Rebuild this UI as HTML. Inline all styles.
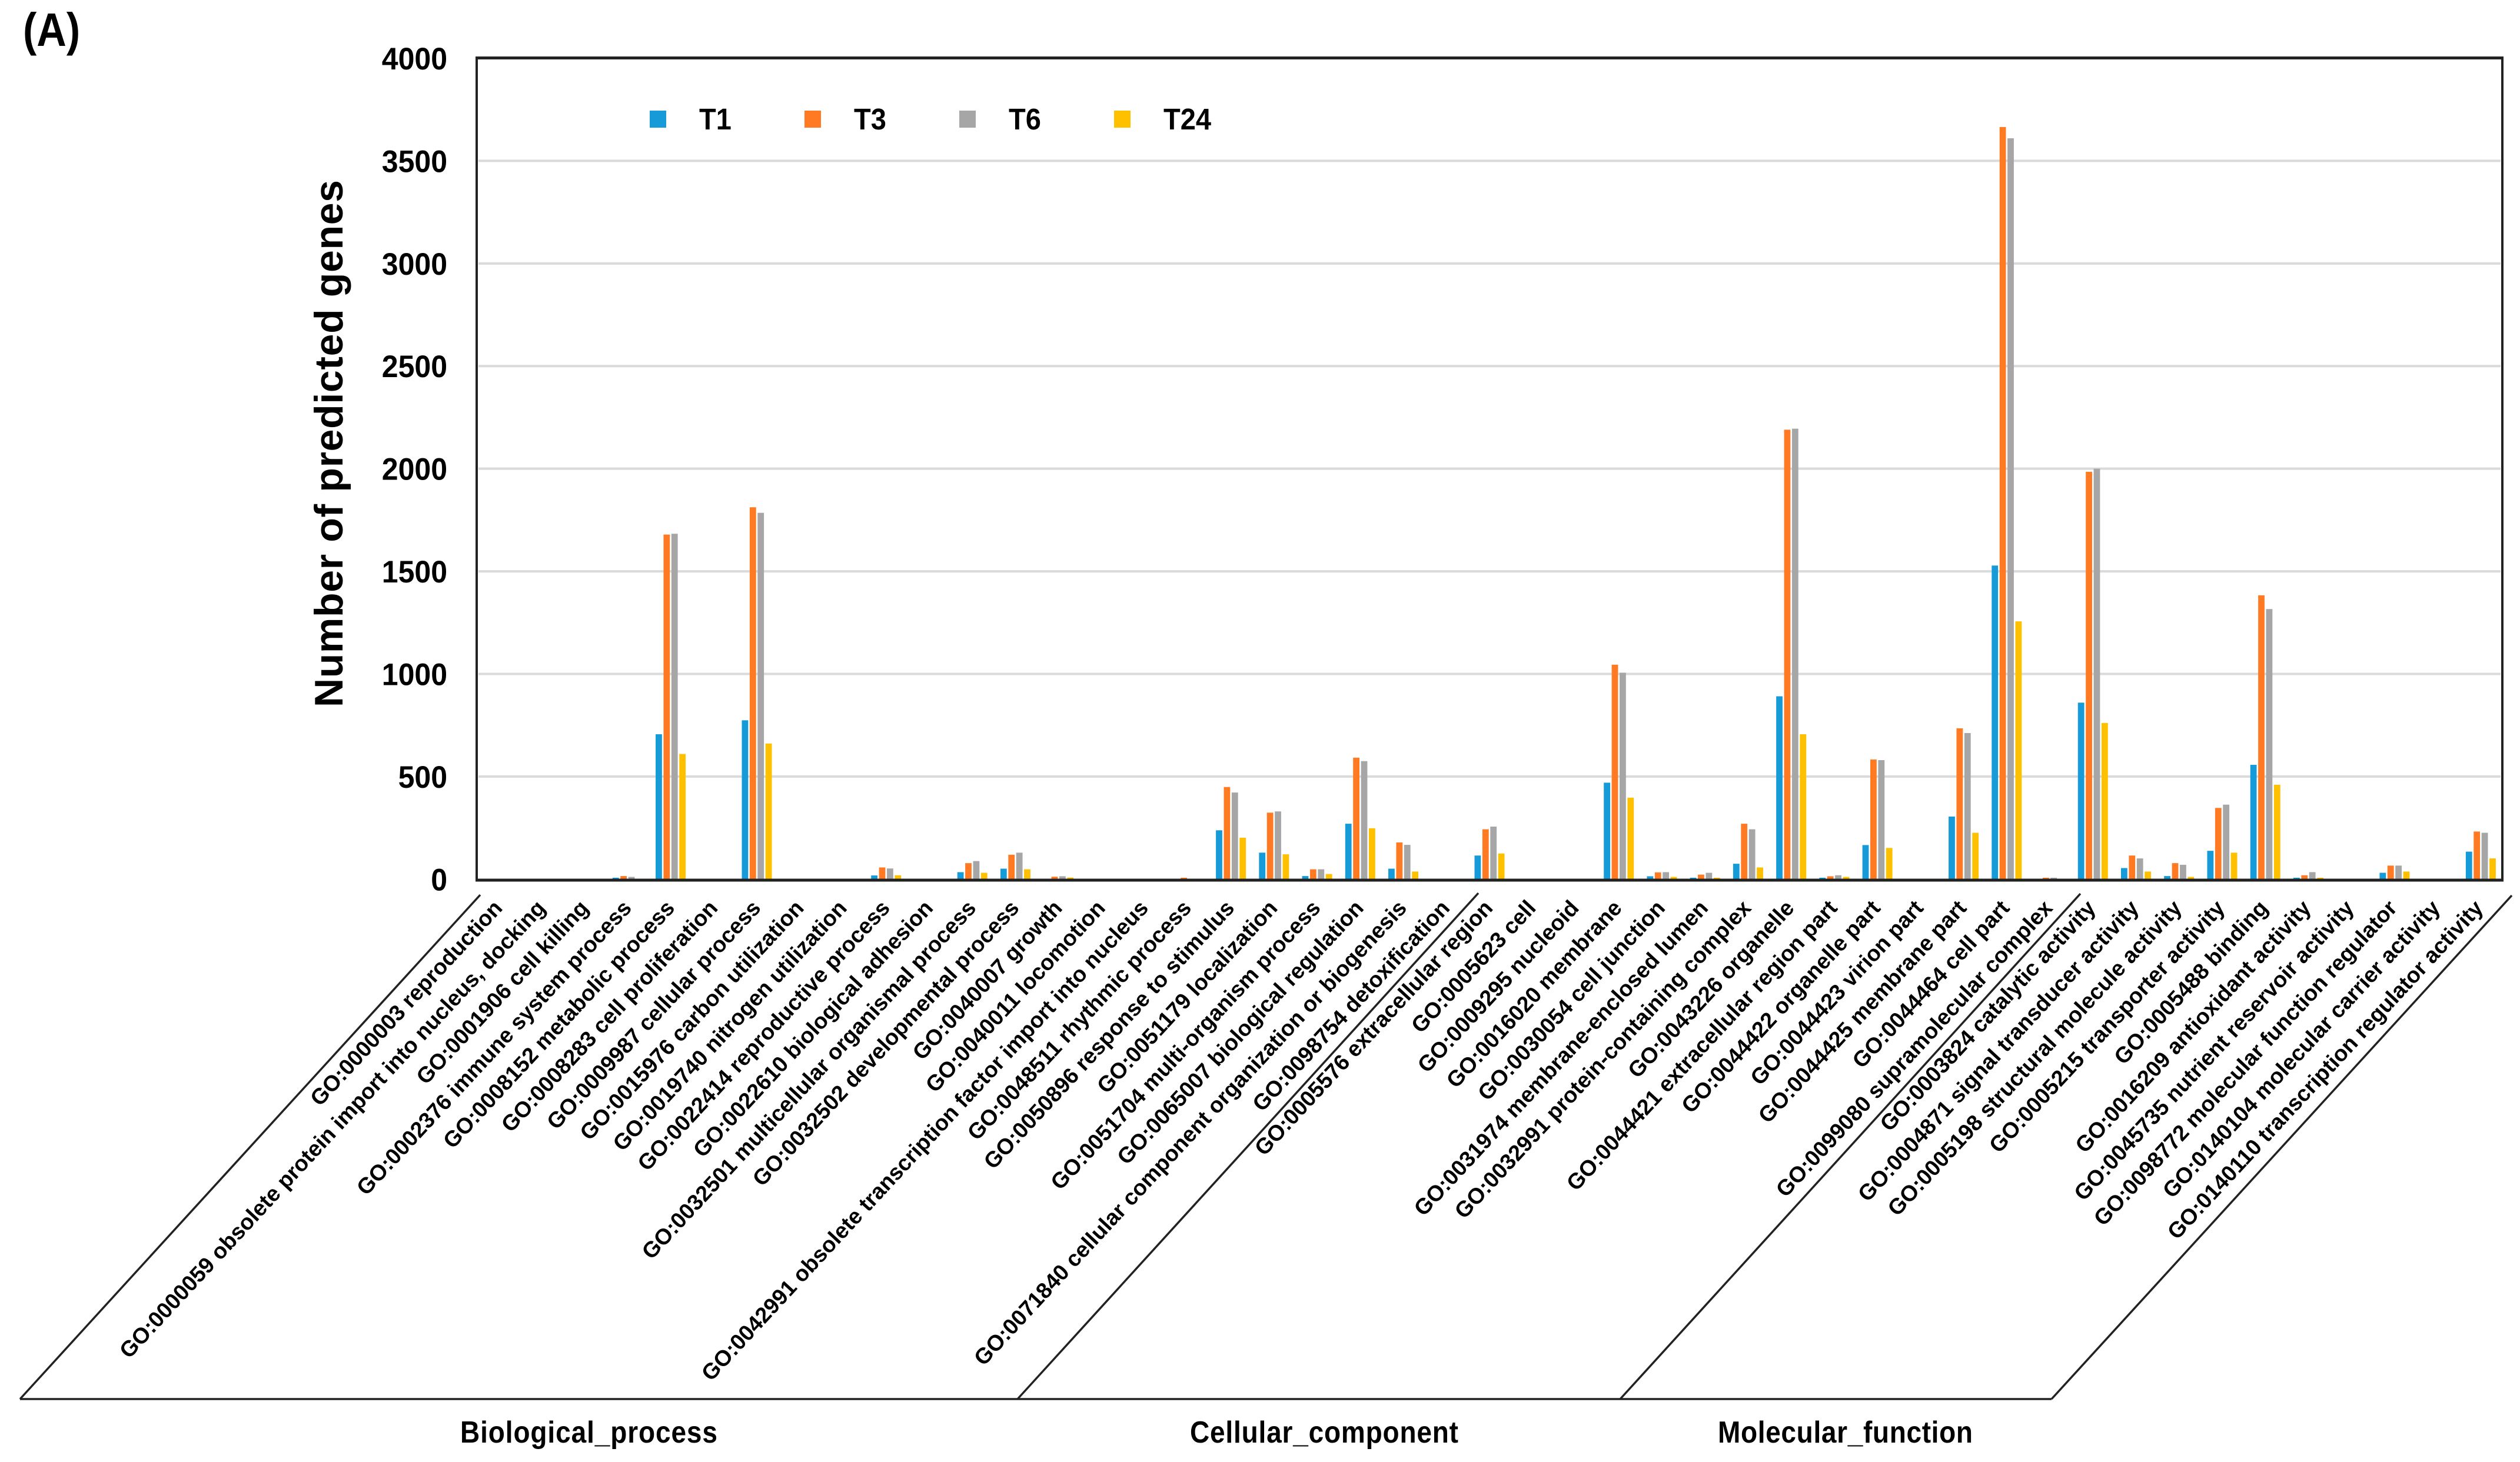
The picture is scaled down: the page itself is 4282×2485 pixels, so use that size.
<!DOCTYPE html>
<html lang="en">
<head>
<meta charset="utf-8">
<title>Number of predicted genes by GO term</title>
<style>
html,body{margin:0;padding:0;background:#fff;}
svg{display:block;}
text{font-family:"Liberation Sans",Arial,sans-serif;font-weight:bold;fill:#000;}
</style>
</head>
<body>
<svg id="chart" xmlns="http://www.w3.org/2000/svg" width="4282" height="2485" viewBox="0 0 4282 2485">
  <rect x="0" y="0" width="4282" height="2485" fill="#fff"/>
  <text transform="translate(39,78) scale(1,1.14)" font-size="70">(A)</text>
  <text transform="translate(582,1202) rotate(-90)" font-size="68" textLength="896">Number of predicted genes</text>
  <g id="grid"></g>
  <g id="bars"></g>
  <g id="frame">
    <line x1="808" y1="98.5" x2="4254" y2="98.5" stroke="#222" stroke-width="5"/>
    <line x1="810" y1="97" x2="810" y2="1497" stroke="#222" stroke-width="4"/>
    <line x1="4252" y1="97" x2="4252" y2="1497" stroke="#222" stroke-width="4"/>
    <line x1="808" y1="1496" x2="4254" y2="1496" stroke="#222" stroke-width="5"/>
  </g>
  <g id="ytick-labels"></g>
  <g id="xtick-labels"></g>
  <g id="legend"></g>
  <g stroke="#222" stroke-width="3.5" fill="none">
    <line x1="34" y1="2378" x2="3486" y2="2378"/>
    <line x1="34" y1="2378" x2="816" y2="1521"/>
    <line x1="1729" y1="2378" x2="2512" y2="1518"/>
    <line x1="2753" y1="2378" x2="3535" y2="1519"/>
    <line x1="3486" y1="2378" x2="4268" y2="1522"/>
  </g>
  <text transform="translate(782,2452) scale(1,1.13)" font-size="46" textLength="437">Biological_process</text>
  <text transform="translate(2022,2452) scale(1,1.13)" font-size="46" textLength="456">Cellular_component</text>
  <text transform="translate(2919,2452) scale(1,1.13)" font-size="46" textLength="433">Molecular_function</text>
</svg>
<script>
const categories = [
  "GO:0000003 reproduction",
  "GO:0000059 obsolete protein import into nucleus, docking",
  "GO:0001906 cell killing",
  "GO:0002376 immune system process",
  "GO:0008152 metabolic process",
  "GO:0008283 cell proliferation",
  "GO:0009987 cellular process",
  "GO:0015976 carbon utilization",
  "GO:0019740 nitrogen utilization",
  "GO:0022414 reproductive process",
  "GO:0022610 biological adhesion",
  "GO:0032501 multicellular organismal process",
  "GO:0032502 developmental process",
  "GO:0040007 growth",
  "GO:0040011 locomotion",
  "GO:0042991 obsolete transcription factor import into nucleus",
  "GO:0048511 rhythmic process",
  "GO:0050896 response to stimulus",
  "GO:0051179 localization",
  "GO:0051704 multi-organism process",
  "GO:0065007 biological regulation",
  "GO:0071840 cellular component organization or biogenesis",
  "GO:0098754 detoxification",
  "GO:0005576 extracellular region",
  "GO:0005623 cell",
  "GO:0009295 nucleoid",
  "GO:0016020 membrane",
  "GO:0030054 cell junction",
  "GO:0031974 membrane-enclosed lumen",
  "GO:0032991 protein-containing complex",
  "GO:0043226 organelle",
  "GO:0044421 extracellular region part",
  "GO:0044422 organelle part",
  "GO:0044423 virion part",
  "GO:0044425 membrane part",
  "GO:0044464 cell part",
  "GO:0099080 supramolecular complex",
  "GO:0003824 catalytic activity",
  "GO:0004871 signal transducer activity",
  "GO:0005198 structural molecule activity",
  "GO:0005215 transporter activity",
  "GO:0005488 binding",
  "GO:0016209 antioxidant activity",
  "GO:0045735 nutrient reservoir activity",
  "GO:0098772 molecular function regulator",
  "GO:0140104 molecular carrier activity",
  "GO:0140110 transcription regulator activity"
];
const t1 = [0,0,0,7,706,0,774,0,0,18,0,34,51,0,0,0,1,238,129,15,270,51,0,115,0,0,470,14,7,75,891,7,166,0,305,1528,0,860,54,15,138,557,7,0,31,0,134];
const t3 = [0,0,0,15,1679,0,1812,0,0,57,0,78,119,12,0,0,7,449,324,48,592,179,0,243,0,0,1045,33,22,270,2190,14,583,0,735,3665,7,1985,115,78,347,1383,19,0,66,0,232];
const t6 = [0,0,0,11,1683,0,1785,0,0,52,0,88,129,14,0,0,2,422,330,48,575,167,0,256,0,0,1006,34,31,243,2195,19,580,0,712,3610,7,2000,101,70,363,1316,34,0,66,0,226];
const t24 = [0,0,0,0,610,0,661,0,0,19,0,31,48,8,0,0,0,202,121,25,248,37,0,125,0,0,397,11,7,57,706,11,152,0,226,1256,0,761,37,11,129,460,7,0,37,0,101];
const yTicks = [0,500,1000,1500,2000,2500,3000,3500,4000];
const seriesNames = ["T1","T3","T6","T24"];

const seriesValues = [t1,t3,t6,t24];
const seriesColors = ["#169bd8","#ff7a22","#a6a6a6","#ffc000"];
const NS = "http://www.w3.org/2000/svg";
const PLOT = {left:810,right:4252,top:99,bottom:1494.3};
const yMax = 4000;

function yScale(v){ return PLOT.bottom - (v / yMax) * (PLOT.bottom - PLOT.top); }
function xBand(){ return (PLOT.right - PLOT.left) / categories.length; }
function xCenter(i){ return PLOT.left + (i + 0.5) * xBand(); }
function barX(i,s){ return xCenter(i) + (s - 1.5) * 13.4 - 5.4; }
function make(tag,attrs){
  const n = document.createElementNS(NS,tag);
  for (const k in attrs) n.setAttribute(k,attrs[k]);
  return n;
}

const gridGroup = document.getElementById('grid');
const yLabelGroup = document.getElementById('ytick-labels');
yTicks.forEach(function(t){
  if (t > 0 && t < yMax) {
    const line = make('line',{x1:PLOT.left+3,x2:PLOT.right-3,y1:yScale(t),y2:yScale(t),stroke:'#dadada','stroke-width':4});
    
    
    gridGroup.appendChild(line);
  }
  const label = make('text',{transform:'translate(760,'+(yScale(t)+19)+') scale(1,1.06)','text-anchor':'end','font-size':50});
  
  
  label.textContent = String(t);
  yLabelGroup.appendChild(label);
});

const barGroup = document.getElementById('bars');
seriesValues.forEach(function(values,s){
  values.forEach(function(v,i){
    if (v <= 0) return;
    const bar = make('rect',{x:barX(i,s),y:yScale(v),width:10.8,height:yScale(0)-yScale(v),fill:seriesColors[s]});
    
    
    barGroup.appendChild(bar);
  });
});

const xLabelGroup = document.getElementById('xtick-labels');
categories.forEach(function(c,i){
  const ax = xCenter(i) + 9 - 3 * i / (categories.length - 1), ay = 1545;
  const label = make('text',{transform:'translate('+ax+','+ay+') rotate(-47.2)','text-anchor':'end','font-size':37.6});
  
  
  label.textContent = c;
  xLabelGroup.appendChild(label);
});

const legendGroup = document.getElementById('legend');
seriesNames.forEach(function(name,s){
  const mx = 1104 + s * 263;
  const swatch = make('rect',{x:mx,y:188,width:28,height:29,fill:seriesColors[s]});
  
  
  legendGroup.appendChild(swatch);
  const label = make('text',{transform:'translate('+(mx+84)+',220) scale(1,1.08)','font-size':47});
  
  
  label.textContent = name;
  legendGroup.appendChild(label);
});
</script>
</body>
</html>
